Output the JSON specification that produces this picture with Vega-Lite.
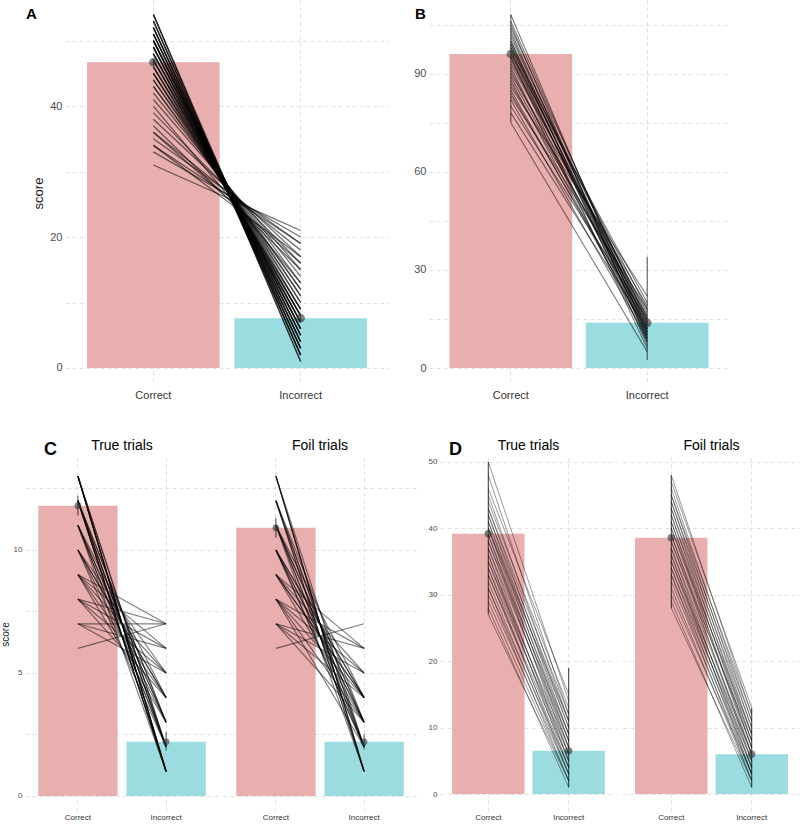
{
"$schema":"https://vega.github.io/schema/vega-lite/v6.json",
"padding":0,
"background":"white",
"config":{
 "view":{"stroke":null},
 "font":"Liberation Sans",
 "axis":{"domain":false,"ticks":false,"grid":true,"gridColor":"#d9d9d9","gridDash":[4,3],"gridWidth":0.8,"labelColor":"#4d4d4d","labelPadding":3,"titleFontWeight":"normal","titleColor":"#1a1a1a"},
 "axisBand":{"bandPosition":0.5,"grid":true},
 "header":{"labelColor":"black","labelFontSize":14,"labelFont":"Liberation Sans"}
},
"datasets":{
 "A_sum":[{"cond":"Correct","mean":46.7,"lo":46.2,"hi":47.2},{"cond":"Incorrect","mean":7.6,"lo":7.1,"hi":8.1}],
 "B_sum":[{"cond":"Correct","mean":96,"lo":75,"hi":108},{"cond":"Incorrect","mean":13.8,"lo":2.4,"hi":34}],
 "A":[
{"subj":1,"cond":"Correct","score":54},{"subj":1,"cond":"Incorrect","score":1},
{"subj":2,"cond":"Correct","score":54},{"subj":2,"cond":"Incorrect","score":2},
{"subj":3,"cond":"Correct","score":54},{"subj":3,"cond":"Incorrect","score":1},
{"subj":4,"cond":"Correct","score":53},{"subj":4,"cond":"Incorrect","score":2},
{"subj":5,"cond":"Correct","score":53},{"subj":5,"cond":"Incorrect","score":3},
{"subj":6,"cond":"Correct","score":53},{"subj":6,"cond":"Incorrect","score":2},
{"subj":7,"cond":"Correct","score":52},{"subj":7,"cond":"Incorrect","score":3},
{"subj":8,"cond":"Correct","score":52},{"subj":8,"cond":"Incorrect","score":4},
{"subj":9,"cond":"Correct","score":52},{"subj":9,"cond":"Incorrect","score":2},
{"subj":10,"cond":"Correct","score":52},{"subj":10,"cond":"Incorrect","score":3},
{"subj":11,"cond":"Correct","score":51},{"subj":11,"cond":"Incorrect","score":4},
{"subj":12,"cond":"Correct","score":51},{"subj":12,"cond":"Incorrect","score":5},
{"subj":13,"cond":"Correct","score":51},{"subj":13,"cond":"Incorrect","score":3},
{"subj":14,"cond":"Correct","score":51},{"subj":14,"cond":"Incorrect","score":4},
{"subj":15,"cond":"Correct","score":50},{"subj":15,"cond":"Incorrect","score":5},
{"subj":16,"cond":"Correct","score":50},{"subj":16,"cond":"Incorrect","score":6},
{"subj":17,"cond":"Correct","score":50},{"subj":17,"cond":"Incorrect","score":4},
{"subj":18,"cond":"Correct","score":50},{"subj":18,"cond":"Incorrect","score":5},
{"subj":19,"cond":"Correct","score":50},{"subj":19,"cond":"Incorrect","score":6},
{"subj":20,"cond":"Correct","score":49},{"subj":20,"cond":"Incorrect","score":6},
{"subj":21,"cond":"Correct","score":49},{"subj":21,"cond":"Incorrect","score":7},
{"subj":22,"cond":"Correct","score":49},{"subj":22,"cond":"Incorrect","score":5},
{"subj":23,"cond":"Correct","score":49},{"subj":23,"cond":"Incorrect","score":6},
{"subj":24,"cond":"Correct","score":48},{"subj":24,"cond":"Incorrect","score":7},
{"subj":25,"cond":"Correct","score":48},{"subj":25,"cond":"Incorrect","score":8},
{"subj":26,"cond":"Correct","score":48},{"subj":26,"cond":"Incorrect","score":6},
{"subj":27,"cond":"Correct","score":48},{"subj":27,"cond":"Incorrect","score":7},
{"subj":28,"cond":"Correct","score":47},{"subj":28,"cond":"Incorrect","score":8},
{"subj":29,"cond":"Correct","score":47},{"subj":29,"cond":"Incorrect","score":9},
{"subj":30,"cond":"Correct","score":47},{"subj":30,"cond":"Incorrect","score":7},
{"subj":31,"cond":"Correct","score":47},{"subj":31,"cond":"Incorrect","score":8},
{"subj":32,"cond":"Correct","score":46},{"subj":32,"cond":"Incorrect","score":9},
{"subj":33,"cond":"Correct","score":46},{"subj":33,"cond":"Incorrect","score":10},
{"subj":34,"cond":"Correct","score":46},{"subj":34,"cond":"Incorrect","score":8},
{"subj":35,"cond":"Correct","score":45},{"subj":35,"cond":"Incorrect","score":10},
{"subj":36,"cond":"Correct","score":45},{"subj":36,"cond":"Incorrect","score":11},
{"subj":37,"cond":"Correct","score":45},{"subj":37,"cond":"Incorrect","score":9},
{"subj":38,"cond":"Correct","score":44},{"subj":38,"cond":"Incorrect","score":11},
{"subj":39,"cond":"Correct","score":44},{"subj":39,"cond":"Incorrect","score":12},
{"subj":40,"cond":"Correct","score":43},{"subj":40,"cond":"Incorrect","score":12},
{"subj":41,"cond":"Correct","score":43},{"subj":41,"cond":"Incorrect","score":13},
{"subj":42,"cond":"Correct","score":42},{"subj":42,"cond":"Incorrect","score":14},
{"subj":43,"cond":"Correct","score":41},{"subj":43,"cond":"Incorrect","score":15},
{"subj":44,"cond":"Correct","score":40},{"subj":44,"cond":"Incorrect","score":13},
{"subj":45,"cond":"Correct","score":39},{"subj":45,"cond":"Incorrect","score":16},
{"subj":46,"cond":"Correct","score":38},{"subj":46,"cond":"Incorrect","score":17},
{"subj":47,"cond":"Correct","score":37},{"subj":47,"cond":"Incorrect","score":15},
{"subj":48,"cond":"Correct","score":36},{"subj":48,"cond":"Incorrect","score":18},
{"subj":49,"cond":"Correct","score":35},{"subj":49,"cond":"Incorrect","score":19},
{"subj":50,"cond":"Correct","score":34},{"subj":50,"cond":"Incorrect","score":17},
{"subj":51,"cond":"Correct","score":33},{"subj":51,"cond":"Incorrect","score":20},
{"subj":52,"cond":"Correct","score":31},{"subj":52,"cond":"Incorrect","score":21},
{"subj":53,"cond":"Correct","score":36},{"subj":53,"cond":"Incorrect","score":16},
{"subj":54,"cond":"Correct","score":34},{"subj":54,"cond":"Incorrect","score":19}
 ],
 "B":[
{"subj":1,"cond":"Correct","score":108},{"subj":1,"cond":"Incorrect","score":10},
{"subj":2,"cond":"Correct","score":106},{"subj":2,"cond":"Incorrect","score":12},
{"subj":3,"cond":"Correct","score":105},{"subj":3,"cond":"Incorrect","score":8},
{"subj":4,"cond":"Correct","score":104},{"subj":4,"cond":"Incorrect","score":14},
{"subj":5,"cond":"Correct","score":103},{"subj":5,"cond":"Incorrect","score":9},
{"subj":6,"cond":"Correct","score":102},{"subj":6,"cond":"Incorrect","score":11},
{"subj":7,"cond":"Correct","score":101},{"subj":7,"cond":"Incorrect","score":15},
{"subj":8,"cond":"Correct","score":100},{"subj":8,"cond":"Incorrect","score":13},
{"subj":9,"cond":"Correct","score":100},{"subj":9,"cond":"Incorrect","score":7},
{"subj":10,"cond":"Correct","score":99},{"subj":10,"cond":"Incorrect","score":16},
{"subj":11,"cond":"Correct","score":99},{"subj":11,"cond":"Incorrect","score":10},
{"subj":12,"cond":"Correct","score":98},{"subj":12,"cond":"Incorrect","score":12},
{"subj":13,"cond":"Correct","score":98},{"subj":13,"cond":"Incorrect","score":18},
{"subj":14,"cond":"Correct","score":97},{"subj":14,"cond":"Incorrect","score":9},
{"subj":15,"cond":"Correct","score":97},{"subj":15,"cond":"Incorrect","score":14},
{"subj":16,"cond":"Correct","score":96},{"subj":16,"cond":"Incorrect","score":11},
{"subj":17,"cond":"Correct","score":96},{"subj":17,"cond":"Incorrect","score":20},
{"subj":18,"cond":"Correct","score":95},{"subj":18,"cond":"Incorrect","score":13},
{"subj":19,"cond":"Correct","score":95},{"subj":19,"cond":"Incorrect","score":6},
{"subj":20,"cond":"Correct","score":94},{"subj":20,"cond":"Incorrect","score":15},
{"subj":21,"cond":"Correct","score":93},{"subj":21,"cond":"Incorrect","score":17},
{"subj":22,"cond":"Correct","score":92},{"subj":22,"cond":"Incorrect","score":8},
{"subj":23,"cond":"Correct","score":91},{"subj":23,"cond":"Incorrect","score":12},
{"subj":24,"cond":"Correct","score":90},{"subj":24,"cond":"Incorrect","score":19},
{"subj":25,"cond":"Correct","score":89},{"subj":25,"cond":"Incorrect","score":14},
{"subj":26,"cond":"Correct","score":88},{"subj":26,"cond":"Incorrect","score":10},
{"subj":27,"cond":"Correct","score":87},{"subj":27,"cond":"Incorrect","score":16},
{"subj":28,"cond":"Correct","score":86},{"subj":28,"cond":"Incorrect","score":22},
{"subj":29,"cond":"Correct","score":85},{"subj":29,"cond":"Incorrect","score":11},
{"subj":30,"cond":"Correct","score":84},{"subj":30,"cond":"Incorrect","score":13},
{"subj":31,"cond":"Correct","score":83},{"subj":31,"cond":"Incorrect","score":18},
{"subj":32,"cond":"Correct","score":82},{"subj":32,"cond":"Incorrect","score":9},
{"subj":33,"cond":"Correct","score":80},{"subj":33,"cond":"Incorrect","score":15},
{"subj":34,"cond":"Correct","score":78},{"subj":34,"cond":"Incorrect","score":12},
{"subj":35,"cond":"Correct","score":75},{"subj":35,"cond":"Incorrect","score":5}
 ],
 "C":[
{"trial":"True trials","cond":"Correct","mean":11.8,"lo":11.4,"hi":12.2},
{"trial":"True trials","cond":"Incorrect","mean":2.2,"lo":1.85,"hi":2.6},
{"trial":"Foil trials","cond":"Correct","mean":10.9,"lo":10.5,"hi":11.3},
{"trial":"Foil trials","cond":"Incorrect","mean":2.2,"lo":1.9,"hi":2.5},
{"trial":"True trials","subj":1,"cond":"Correct","score":13},{"trial":"True trials","subj":1,"cond":"Incorrect","score":1},
{"trial":"True trials","subj":2,"cond":"Correct","score":13},{"trial":"True trials","subj":2,"cond":"Incorrect","score":1},
{"trial":"True trials","subj":3,"cond":"Correct","score":13},{"trial":"True trials","subj":3,"cond":"Incorrect","score":1},
{"trial":"True trials","subj":4,"cond":"Correct","score":13},{"trial":"True trials","subj":4,"cond":"Incorrect","score":1},
{"trial":"True trials","subj":5,"cond":"Correct","score":13},{"trial":"True trials","subj":5,"cond":"Incorrect","score":1},
{"trial":"True trials","subj":6,"cond":"Correct","score":13},{"trial":"True trials","subj":6,"cond":"Incorrect","score":2},
{"trial":"True trials","subj":7,"cond":"Correct","score":13},{"trial":"True trials","subj":7,"cond":"Incorrect","score":2},
{"trial":"True trials","subj":8,"cond":"Correct","score":12},{"trial":"True trials","subj":8,"cond":"Incorrect","score":1},
{"trial":"True trials","subj":9,"cond":"Correct","score":12},{"trial":"True trials","subj":9,"cond":"Incorrect","score":1},
{"trial":"True trials","subj":10,"cond":"Correct","score":12},{"trial":"True trials","subj":10,"cond":"Incorrect","score":1},
{"trial":"True trials","subj":11,"cond":"Correct","score":12},{"trial":"True trials","subj":11,"cond":"Incorrect","score":1},
{"trial":"True trials","subj":12,"cond":"Correct","score":12},{"trial":"True trials","subj":12,"cond":"Incorrect","score":2},
{"trial":"True trials","subj":13,"cond":"Correct","score":12},{"trial":"True trials","subj":13,"cond":"Incorrect","score":2},
{"trial":"True trials","subj":14,"cond":"Correct","score":12},{"trial":"True trials","subj":14,"cond":"Incorrect","score":2},
{"trial":"True trials","subj":15,"cond":"Correct","score":12},{"trial":"True trials","subj":15,"cond":"Incorrect","score":3},
{"trial":"True trials","subj":16,"cond":"Correct","score":12},{"trial":"True trials","subj":16,"cond":"Incorrect","score":3},
{"trial":"True trials","subj":17,"cond":"Correct","score":11},{"trial":"True trials","subj":17,"cond":"Incorrect","score":1},
{"trial":"True trials","subj":18,"cond":"Correct","score":11},{"trial":"True trials","subj":18,"cond":"Incorrect","score":2},
{"trial":"True trials","subj":19,"cond":"Correct","score":11},{"trial":"True trials","subj":19,"cond":"Incorrect","score":2},
{"trial":"True trials","subj":20,"cond":"Correct","score":11},{"trial":"True trials","subj":20,"cond":"Incorrect","score":3},
{"trial":"True trials","subj":21,"cond":"Correct","score":11},{"trial":"True trials","subj":21,"cond":"Incorrect","score":3},
{"trial":"True trials","subj":22,"cond":"Correct","score":11},{"trial":"True trials","subj":22,"cond":"Incorrect","score":4},
{"trial":"True trials","subj":23,"cond":"Correct","score":10},{"trial":"True trials","subj":23,"cond":"Incorrect","score":2},
{"trial":"True trials","subj":24,"cond":"Correct","score":10},{"trial":"True trials","subj":24,"cond":"Incorrect","score":3},
{"trial":"True trials","subj":25,"cond":"Correct","score":10},{"trial":"True trials","subj":25,"cond":"Incorrect","score":4},
{"trial":"True trials","subj":26,"cond":"Correct","score":10},{"trial":"True trials","subj":26,"cond":"Incorrect","score":4},
{"trial":"True trials","subj":27,"cond":"Correct","score":10},{"trial":"True trials","subj":27,"cond":"Incorrect","score":5},
{"trial":"True trials","subj":28,"cond":"Correct","score":9},{"trial":"True trials","subj":28,"cond":"Incorrect","score":3},
{"trial":"True trials","subj":29,"cond":"Correct","score":9},{"trial":"True trials","subj":29,"cond":"Incorrect","score":4},
{"trial":"True trials","subj":30,"cond":"Correct","score":9},{"trial":"True trials","subj":30,"cond":"Incorrect","score":5},
{"trial":"True trials","subj":31,"cond":"Correct","score":9},{"trial":"True trials","subj":31,"cond":"Incorrect","score":6},
{"trial":"True trials","subj":32,"cond":"Correct","score":9},{"trial":"True trials","subj":32,"cond":"Incorrect","score":7},
{"trial":"True trials","subj":33,"cond":"Correct","score":8},{"trial":"True trials","subj":33,"cond":"Incorrect","score":4},
{"trial":"True trials","subj":34,"cond":"Correct","score":8},{"trial":"True trials","subj":34,"cond":"Incorrect","score":5},
{"trial":"True trials","subj":35,"cond":"Correct","score":8},{"trial":"True trials","subj":35,"cond":"Incorrect","score":6},
{"trial":"True trials","subj":36,"cond":"Correct","score":8},{"trial":"True trials","subj":36,"cond":"Incorrect","score":7},
{"trial":"True trials","subj":37,"cond":"Correct","score":7},{"trial":"True trials","subj":37,"cond":"Incorrect","score":7},
{"trial":"True trials","subj":38,"cond":"Correct","score":7},{"trial":"True trials","subj":38,"cond":"Incorrect","score":6},
{"trial":"True trials","subj":39,"cond":"Correct","score":7},{"trial":"True trials","subj":39,"cond":"Incorrect","score":5},
{"trial":"True trials","subj":40,"cond":"Correct","score":6},{"trial":"True trials","subj":40,"cond":"Incorrect","score":7},
{"trial":"Foil trials","subj":1,"cond":"Correct","score":13},{"trial":"Foil trials","subj":1,"cond":"Incorrect","score":1},
{"trial":"Foil trials","subj":2,"cond":"Correct","score":13},{"trial":"Foil trials","subj":2,"cond":"Incorrect","score":1},
{"trial":"Foil trials","subj":3,"cond":"Correct","score":13},{"trial":"Foil trials","subj":3,"cond":"Incorrect","score":1},
{"trial":"Foil trials","subj":4,"cond":"Correct","score":13},{"trial":"Foil trials","subj":4,"cond":"Incorrect","score":2},
{"trial":"Foil trials","subj":5,"cond":"Correct","score":12},{"trial":"Foil trials","subj":5,"cond":"Incorrect","score":1},
{"trial":"Foil trials","subj":6,"cond":"Correct","score":12},{"trial":"Foil trials","subj":6,"cond":"Incorrect","score":1},
{"trial":"Foil trials","subj":7,"cond":"Correct","score":12},{"trial":"Foil trials","subj":7,"cond":"Incorrect","score":2},
{"trial":"Foil trials","subj":8,"cond":"Correct","score":12},{"trial":"Foil trials","subj":8,"cond":"Incorrect","score":2},
{"trial":"Foil trials","subj":9,"cond":"Correct","score":12},{"trial":"Foil trials","subj":9,"cond":"Incorrect","score":3},
{"trial":"Foil trials","subj":10,"cond":"Correct","score":11},{"trial":"Foil trials","subj":10,"cond":"Incorrect","score":1},
{"trial":"Foil trials","subj":11,"cond":"Correct","score":11},{"trial":"Foil trials","subj":11,"cond":"Incorrect","score":2},
{"trial":"Foil trials","subj":12,"cond":"Correct","score":11},{"trial":"Foil trials","subj":12,"cond":"Incorrect","score":3},
{"trial":"Foil trials","subj":13,"cond":"Correct","score":11},{"trial":"Foil trials","subj":13,"cond":"Incorrect","score":3},
{"trial":"Foil trials","subj":14,"cond":"Correct","score":11},{"trial":"Foil trials","subj":14,"cond":"Incorrect","score":4},
{"trial":"Foil trials","subj":15,"cond":"Correct","score":10},{"trial":"Foil trials","subj":15,"cond":"Incorrect","score":2},
{"trial":"Foil trials","subj":16,"cond":"Correct","score":10},{"trial":"Foil trials","subj":16,"cond":"Incorrect","score":3},
{"trial":"Foil trials","subj":17,"cond":"Correct","score":10},{"trial":"Foil trials","subj":17,"cond":"Incorrect","score":3},
{"trial":"Foil trials","subj":18,"cond":"Correct","score":10},{"trial":"Foil trials","subj":18,"cond":"Incorrect","score":4},
{"trial":"Foil trials","subj":19,"cond":"Correct","score":10},{"trial":"Foil trials","subj":19,"cond":"Incorrect","score":4},
{"trial":"Foil trials","subj":20,"cond":"Correct","score":9},{"trial":"Foil trials","subj":20,"cond":"Incorrect","score":3},
{"trial":"Foil trials","subj":21,"cond":"Correct","score":9},{"trial":"Foil trials","subj":21,"cond":"Incorrect","score":4},
{"trial":"Foil trials","subj":22,"cond":"Correct","score":9},{"trial":"Foil trials","subj":22,"cond":"Incorrect","score":4},
{"trial":"Foil trials","subj":23,"cond":"Correct","score":9},{"trial":"Foil trials","subj":23,"cond":"Incorrect","score":5},
{"trial":"Foil trials","subj":24,"cond":"Correct","score":9},{"trial":"Foil trials","subj":24,"cond":"Incorrect","score":6},
{"trial":"Foil trials","subj":25,"cond":"Correct","score":8},{"trial":"Foil trials","subj":25,"cond":"Incorrect","score":3},
{"trial":"Foil trials","subj":26,"cond":"Correct","score":8},{"trial":"Foil trials","subj":26,"cond":"Incorrect","score":4},
{"trial":"Foil trials","subj":27,"cond":"Correct","score":8},{"trial":"Foil trials","subj":27,"cond":"Incorrect","score":5},
{"trial":"Foil trials","subj":28,"cond":"Correct","score":8},{"trial":"Foil trials","subj":28,"cond":"Incorrect","score":6},
{"trial":"Foil trials","subj":29,"cond":"Correct","score":8},{"trial":"Foil trials","subj":29,"cond":"Incorrect","score":2},
{"trial":"Foil trials","subj":30,"cond":"Correct","score":7},{"trial":"Foil trials","subj":30,"cond":"Incorrect","score":5},
{"trial":"Foil trials","subj":31,"cond":"Correct","score":7},{"trial":"Foil trials","subj":31,"cond":"Incorrect","score":6},
{"trial":"Foil trials","subj":32,"cond":"Correct","score":7},{"trial":"Foil trials","subj":32,"cond":"Incorrect","score":4},
{"trial":"Foil trials","subj":33,"cond":"Correct","score":7},{"trial":"Foil trials","subj":33,"cond":"Incorrect","score":3},
{"trial":"Foil trials","subj":34,"cond":"Correct","score":6},{"trial":"Foil trials","subj":34,"cond":"Incorrect","score":7},
{"trial":"Foil trials","subj":35,"cond":"Correct","score":11},{"trial":"Foil trials","subj":35,"cond":"Incorrect","score":2},
{"trial":"Foil trials","subj":36,"cond":"Correct","score":10},{"trial":"Foil trials","subj":36,"cond":"Incorrect","score":2}
 ],
 "D":[
{"trial":"True trials","cond":"Correct","mean":39.2,"lo":27,"hi":50},
{"trial":"True trials","cond":"Incorrect","mean":6.5,"lo":1,"hi":19},
{"trial":"Foil trials","cond":"Correct","mean":38.6,"lo":28,"hi":48},
{"trial":"Foil trials","cond":"Incorrect","mean":6.0,"lo":1,"hi":13},
{"trial":"True trials","subj":1,"cond":"Correct","score":50},{"trial":"True trials","subj":1,"cond":"Incorrect","score":14},
{"trial":"True trials","subj":2,"cond":"Correct","score":48},{"trial":"True trials","subj":2,"cond":"Incorrect","score":12},
{"trial":"True trials","subj":3,"cond":"Correct","score":46},{"trial":"True trials","subj":3,"cond":"Incorrect","score":15},
{"trial":"True trials","subj":4,"cond":"Correct","score":45},{"trial":"True trials","subj":4,"cond":"Incorrect","score":11},
{"trial":"True trials","subj":5,"cond":"Correct","score":44},{"trial":"True trials","subj":5,"cond":"Incorrect","score":13},
{"trial":"True trials","subj":6,"cond":"Correct","score":43},{"trial":"True trials","subj":6,"cond":"Incorrect","score":10},
{"trial":"True trials","subj":7,"cond":"Correct","score":43},{"trial":"True trials","subj":7,"cond":"Incorrect","score":12},
{"trial":"True trials","subj":8,"cond":"Correct","score":42},{"trial":"True trials","subj":8,"cond":"Incorrect","score":9},
{"trial":"True trials","subj":9,"cond":"Correct","score":42},{"trial":"True trials","subj":9,"cond":"Incorrect","score":11},
{"trial":"True trials","subj":10,"cond":"Correct","score":41},{"trial":"True trials","subj":10,"cond":"Incorrect","score":10},
{"trial":"True trials","subj":11,"cond":"Correct","score":41},{"trial":"True trials","subj":11,"cond":"Incorrect","score":8},
{"trial":"True trials","subj":12,"cond":"Correct","score":40},{"trial":"True trials","subj":12,"cond":"Incorrect","score":9},
{"trial":"True trials","subj":13,"cond":"Correct","score":40},{"trial":"True trials","subj":13,"cond":"Incorrect","score":7},
{"trial":"True trials","subj":14,"cond":"Correct","score":40},{"trial":"True trials","subj":14,"cond":"Incorrect","score":11},
{"trial":"True trials","subj":15,"cond":"Correct","score":39},{"trial":"True trials","subj":15,"cond":"Incorrect","score":8},
{"trial":"True trials","subj":16,"cond":"Correct","score":39},{"trial":"True trials","subj":16,"cond":"Incorrect","score":6},
{"trial":"True trials","subj":17,"cond":"Correct","score":38},{"trial":"True trials","subj":17,"cond":"Incorrect","score":9},
{"trial":"True trials","subj":18,"cond":"Correct","score":38},{"trial":"True trials","subj":18,"cond":"Incorrect","score":7},
{"trial":"True trials","subj":19,"cond":"Correct","score":37},{"trial":"True trials","subj":19,"cond":"Incorrect","score":5},
{"trial":"True trials","subj":20,"cond":"Correct","score":37},{"trial":"True trials","subj":20,"cond":"Incorrect","score":8},
{"trial":"True trials","subj":21,"cond":"Correct","score":36},{"trial":"True trials","subj":21,"cond":"Incorrect","score":6},
{"trial":"True trials","subj":22,"cond":"Correct","score":36},{"trial":"True trials","subj":22,"cond":"Incorrect","score":4},
{"trial":"True trials","subj":23,"cond":"Correct","score":35},{"trial":"True trials","subj":23,"cond":"Incorrect","score":7},
{"trial":"True trials","subj":24,"cond":"Correct","score":35},{"trial":"True trials","subj":24,"cond":"Incorrect","score":5},
{"trial":"True trials","subj":25,"cond":"Correct","score":34},{"trial":"True trials","subj":25,"cond":"Incorrect","score":6},
{"trial":"True trials","subj":26,"cond":"Correct","score":34},{"trial":"True trials","subj":26,"cond":"Incorrect","score":3},
{"trial":"True trials","subj":27,"cond":"Correct","score":33},{"trial":"True trials","subj":27,"cond":"Incorrect","score":5},
{"trial":"True trials","subj":28,"cond":"Correct","score":33},{"trial":"True trials","subj":28,"cond":"Incorrect","score":4},
{"trial":"True trials","subj":29,"cond":"Correct","score":32},{"trial":"True trials","subj":29,"cond":"Incorrect","score":3},
{"trial":"True trials","subj":30,"cond":"Correct","score":31},{"trial":"True trials","subj":30,"cond":"Incorrect","score":4},
{"trial":"True trials","subj":31,"cond":"Correct","score":31},{"trial":"True trials","subj":31,"cond":"Incorrect","score":2},
{"trial":"True trials","subj":32,"cond":"Correct","score":30},{"trial":"True trials","subj":32,"cond":"Incorrect","score":3},
{"trial":"True trials","subj":33,"cond":"Correct","score":29},{"trial":"True trials","subj":33,"cond":"Incorrect","score":2},
{"trial":"True trials","subj":34,"cond":"Correct","score":28},{"trial":"True trials","subj":34,"cond":"Incorrect","score":1},
{"trial":"True trials","subj":35,"cond":"Correct","score":27},{"trial":"True trials","subj":35,"cond":"Incorrect","score":2},
{"trial":"Foil trials","subj":1,"cond":"Correct","score":48},{"trial":"Foil trials","subj":1,"cond":"Incorrect","score":12},
{"trial":"Foil trials","subj":2,"cond":"Correct","score":47},{"trial":"Foil trials","subj":2,"cond":"Incorrect","score":13},
{"trial":"Foil trials","subj":3,"cond":"Correct","score":46},{"trial":"Foil trials","subj":3,"cond":"Incorrect","score":11},
{"trial":"Foil trials","subj":4,"cond":"Correct","score":45},{"trial":"Foil trials","subj":4,"cond":"Incorrect","score":10},
{"trial":"Foil trials","subj":5,"cond":"Correct","score":45},{"trial":"Foil trials","subj":5,"cond":"Incorrect","score":12},
{"trial":"Foil trials","subj":6,"cond":"Correct","score":44},{"trial":"Foil trials","subj":6,"cond":"Incorrect","score":9},
{"trial":"Foil trials","subj":7,"cond":"Correct","score":44},{"trial":"Foil trials","subj":7,"cond":"Incorrect","score":11},
{"trial":"Foil trials","subj":8,"cond":"Correct","score":43},{"trial":"Foil trials","subj":8,"cond":"Incorrect","score":8},
{"trial":"Foil trials","subj":9,"cond":"Correct","score":43},{"trial":"Foil trials","subj":9,"cond":"Incorrect","score":10},
{"trial":"Foil trials","subj":10,"cond":"Correct","score":42},{"trial":"Foil trials","subj":10,"cond":"Incorrect","score":7},
{"trial":"Foil trials","subj":11,"cond":"Correct","score":42},{"trial":"Foil trials","subj":11,"cond":"Incorrect","score":9},
{"trial":"Foil trials","subj":12,"cond":"Correct","score":41},{"trial":"Foil trials","subj":12,"cond":"Incorrect","score":8},
{"trial":"Foil trials","subj":13,"cond":"Correct","score":41},{"trial":"Foil trials","subj":13,"cond":"Incorrect","score":6},
{"trial":"Foil trials","subj":14,"cond":"Correct","score":40},{"trial":"Foil trials","subj":14,"cond":"Incorrect","score":7},
{"trial":"Foil trials","subj":15,"cond":"Correct","score":40},{"trial":"Foil trials","subj":15,"cond":"Incorrect","score":9},
{"trial":"Foil trials","subj":16,"cond":"Correct","score":39},{"trial":"Foil trials","subj":16,"cond":"Incorrect","score":5},
{"trial":"Foil trials","subj":17,"cond":"Correct","score":39},{"trial":"Foil trials","subj":17,"cond":"Incorrect","score":7},
{"trial":"Foil trials","subj":18,"cond":"Correct","score":38},{"trial":"Foil trials","subj":18,"cond":"Incorrect","score":6},
{"trial":"Foil trials","subj":19,"cond":"Correct","score":38},{"trial":"Foil trials","subj":19,"cond":"Incorrect","score":8},
{"trial":"Foil trials","subj":20,"cond":"Correct","score":37},{"trial":"Foil trials","subj":20,"cond":"Incorrect","score":4},
{"trial":"Foil trials","subj":21,"cond":"Correct","score":37},{"trial":"Foil trials","subj":21,"cond":"Incorrect","score":6},
{"trial":"Foil trials","subj":22,"cond":"Correct","score":36},{"trial":"Foil trials","subj":22,"cond":"Incorrect","score":5},
{"trial":"Foil trials","subj":23,"cond":"Correct","score":36},{"trial":"Foil trials","subj":23,"cond":"Incorrect","score":3},
{"trial":"Foil trials","subj":24,"cond":"Correct","score":35},{"trial":"Foil trials","subj":24,"cond":"Incorrect","score":4},
{"trial":"Foil trials","subj":25,"cond":"Correct","score":35},{"trial":"Foil trials","subj":25,"cond":"Incorrect","score":6},
{"trial":"Foil trials","subj":26,"cond":"Correct","score":34},{"trial":"Foil trials","subj":26,"cond":"Incorrect","score":3},
{"trial":"Foil trials","subj":27,"cond":"Correct","score":34},{"trial":"Foil trials","subj":27,"cond":"Incorrect","score":5},
{"trial":"Foil trials","subj":28,"cond":"Correct","score":33},{"trial":"Foil trials","subj":28,"cond":"Incorrect","score":2},
{"trial":"Foil trials","subj":29,"cond":"Correct","score":33},{"trial":"Foil trials","subj":29,"cond":"Incorrect","score":4},
{"trial":"Foil trials","subj":30,"cond":"Correct","score":32},{"trial":"Foil trials","subj":30,"cond":"Incorrect","score":3},
{"trial":"Foil trials","subj":31,"cond":"Correct","score":31},{"trial":"Foil trials","subj":31,"cond":"Incorrect","score":2},
{"trial":"Foil trials","subj":32,"cond":"Correct","score":30},{"trial":"Foil trials","subj":32,"cond":"Incorrect","score":3},
{"trial":"Foil trials","subj":33,"cond":"Correct","score":29},{"trial":"Foil trials","subj":33,"cond":"Incorrect","score":1},
{"trial":"Foil trials","subj":34,"cond":"Correct","score":28},{"trial":"Foil trials","subj":34,"cond":"Incorrect","score":2}
 ]
},
"vconcat":[
 {"hconcat":[
  {"width":1,"height":1,"data":{"values":[]},"mark":{"type":"point","opacity":0},"encoding":{}},
  {"hconcat":[
  {"width":324,"height":386,
   "title":{"text":"A","anchor":"start","frame":"group","fontSize":15,"fontWeight":"bold","color":"black","dx":-39,"offset":-22},
   "layer":[
    {"data":{"name":"A_sum"},"mark":{"type":"bar"},
     "encoding":{
      "x":{"field":"cond","type":"nominal","scale":{"paddingInner":0.1,"paddingOuter":0.15},"axis":{"title":null,"labelAngle":0,"labelFontSize":11,"labelColor":"#333333"}},
      "y":{"field":"mean","type":"quantitative","title":"score","scale":{"domain":[-2.75,56.2],"nice":false,"zero":false},"axis":{"values":[0,10,20,30,40,50],"labelExpr":"datum.value % 20 === 0 ? format(datum.value,'d') : ''","labelFontSize":11,"titleFontSize":13,"titlePadding":4}},
      "y2":{"datum":0},
      "color":{"field":"cond","type":"nominal","scale":{"range":["#E9AEAE","#9ADCDF"]},"legend":null}}},
    {"data":{"name":"A"},"mark":{"type":"line","color":"black","opacity":0.55,"strokeWidth":1.3},
     "encoding":{"x":{"field":"cond","type":"nominal"},"y":{"field":"score","type":"quantitative","title":"score"},"detail":{"field":"subj","type":"nominal"}}},
    {"data":{"name":"A_sum"},"mark":{"type":"rule","color":"black","opacity":0.6},
     "encoding":{"x":{"field":"cond","type":"nominal"},"y":{"field":"lo","type":"quantitative","title":"score"},"y2":{"field":"hi"}}},
    {"data":{"name":"A_sum"},"mark":{"type":"circle","size":75,"color":"#333333","opacity":0.6},
     "encoding":{"x":{"field":"cond","type":"nominal"},"y":{"field":"mean","type":"quantitative","title":"score"}}}
   ]},
  {"width":300,"height":386,
   "title":{"text":"B","anchor":"start","frame":"group","fontSize":15,"fontWeight":"bold","color":"black","dx":-14,"offset":-22},
   "layer":[
    {"data":{"name":"B_sum"},"mark":{"type":"bar"},
     "encoding":{
      "x":{"field":"cond","type":"nominal","scale":{"paddingInner":0.1,"paddingOuter":0.15},"axis":{"title":null,"labelAngle":0,"labelFontSize":11,"labelColor":"#333333"}},
      "y":{"field":"mean","type":"quantitative","scale":{"domain":[-5.5,112.5],"nice":false,"zero":false},"axis":{"title":null,"values":[0,15,30,45,60,75,90,105],"labelExpr":"datum.value % 30 === 0 ? format(datum.value,'d') : ''","labelFontSize":11}},
      "y2":{"datum":0},
      "color":{"field":"cond","type":"nominal","scale":{"range":["#E9AEAE","#9ADCDF"]},"legend":null}}},
    {"data":{"name":"B"},"mark":{"type":"line","color":"black","opacity":0.5,"strokeWidth":1.1},
     "encoding":{"x":{"field":"cond","type":"nominal"},"y":{"field":"score","type":"quantitative"},"detail":{"field":"subj","type":"nominal"}}},
    {"data":{"name":"B_sum"},"mark":{"type":"rule","color":"black","opacity":0.7},
     "encoding":{"x":{"field":"cond","type":"nominal"},"y":{"field":"lo","type":"quantitative"},"y2":{"field":"hi"}}},
    {"data":{"name":"B_sum"},"mark":{"type":"circle","size":75,"color":"#333333","opacity":0.6},
     "encoding":{"x":{"field":"cond","type":"nominal"},"y":{"field":"mean","type":"quantitative"}}}
   ]}
  ],"spacing":24}
 ],"spacing":0},
 {"hconcat":[
  {"data":{"name":"C"},
   "title":{"text":"C","anchor":"start","frame":"group","fontSize":18,"fontWeight":"bold","color":"black","dx":19,"offset":-20},
   "facet":{"column":{"field":"trial","type":"nominal","sort":["True trials","Foil trials"],"title":null,"header":{"labelFontSize":14,"labelPadding":4}}},
   "spacing":4,
   "spec":{"width":194,"height":354,
    "layer":[
     {"transform":[{"filter":"isValid(datum.mean)"}],"mark":{"type":"bar"},
      "encoding":{
       "x":{"field":"cond","type":"nominal","scale":{"paddingInner":0.1,"paddingOuter":0.15},"axis":{"title":null,"labelAngle":0,"labelFontSize":8,"labelColor":"#333333","labelPadding":2}},
       "y":{"field":"mean","type":"quantitative","title":"score","scale":{"domain":[-0.61,13.78],"nice":false,"zero":false},"axis":{"values":[0,2.5,5,7.5,10,12.5],"labelExpr":"datum.value % 5 === 0 ? format(datum.value,'d') : ''","labelFontSize":8,"titleFontSize":10,"titlePadding":3}},
       "y2":{"datum":0},
       "color":{"field":"cond","type":"nominal","scale":{"range":["#E9AEAE","#9ADCDF"]},"legend":null}}},
     {"transform":[{"filter":"isValid(datum.score)"}],"mark":{"type":"line","color":"black","opacity":0.5,"strokeWidth":1.2},
      "encoding":{"x":{"field":"cond","type":"nominal"},"y":{"field":"score","type":"quantitative","title":"score"},"detail":{"field":"subj","type":"nominal"}}},
     {"transform":[{"filter":"isValid(datum.mean)"}],"mark":{"type":"rule","color":"black","opacity":0.7},
      "encoding":{"x":{"field":"cond","type":"nominal"},"y":{"field":"lo","type":"quantitative","title":"score"},"y2":{"field":"hi"}}},
     {"transform":[{"filter":"isValid(datum.mean)"}],"mark":{"type":"circle","size":45,"color":"#333333","opacity":0.6},
      "encoding":{"x":{"field":"cond","type":"nominal"},"y":{"field":"mean","type":"quantitative","title":"score"}}}
    ]}},
  {"data":{"name":"D"},
   "title":{"text":"D","anchor":"start","frame":"group","fontSize":18,"fontWeight":"bold","color":"black","dx":9,"offset":-20},
   "facet":{"column":{"field":"trial","type":"nominal","sort":["True trials","Foil trials"],"title":null,"header":{"labelFontSize":14,"labelPadding":4}}},
   "spacing":6,
   "spec":{"width":177,"height":354,
    "layer":[
     {"transform":[{"filter":"isValid(datum.mean)"}],"mark":{"type":"bar"},
      "encoding":{
       "x":{"field":"cond","type":"nominal","scale":{"paddingInner":0.1,"paddingOuter":0.15},"axis":{"title":null,"labelAngle":0,"labelFontSize":8,"labelColor":"#333333","labelPadding":2}},
       "y":{"field":"mean","type":"quantitative","scale":{"domain":[-2.56,50.75],"nice":false,"zero":false},"axis":{"title":null,"values":[0,5,10,15,20,25,30,35,40,45,50],"labelExpr":"datum.value % 10 === 0 ? format(datum.value,'d') : ''","labelFontSize":8}},
       "y2":{"datum":0},
       "color":{"field":"cond","type":"nominal","scale":{"range":["#E9AEAE","#9ADCDF"]},"legend":null}}},
     {"transform":[{"filter":"isValid(datum.score)"}],"mark":{"type":"line","color":"black","opacity":0.45,"strokeWidth":0.9},
      "encoding":{"x":{"field":"cond","type":"nominal"},"y":{"field":"score","type":"quantitative"},"detail":{"field":"subj","type":"nominal"}}},
     {"transform":[{"filter":"isValid(datum.mean)"}],"mark":{"type":"rule","color":"black","opacity":0.8},
      "encoding":{"x":{"field":"cond","type":"nominal"},"y":{"field":"lo","type":"quantitative"},"y2":{"field":"hi"}}},
     {"transform":[{"filter":"isValid(datum.mean)"}],"mark":{"type":"circle","size":55,"color":"#333333","opacity":0.6},
      "encoding":{"x":{"field":"cond","type":"nominal"},"y":{"field":"mean","type":"quantitative"}}}
    ]}}
 ],"spacing":11}
],
"spacing":39
}
